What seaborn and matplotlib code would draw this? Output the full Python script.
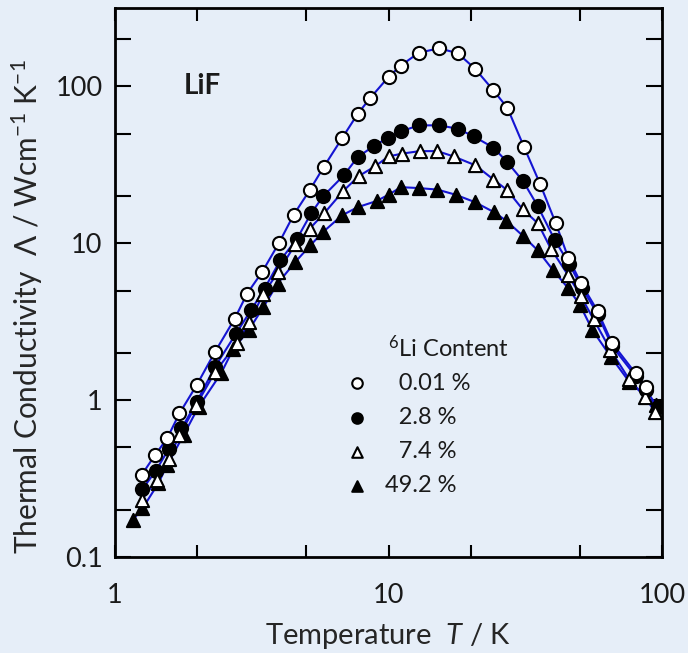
import numpy as np
import pandas as pd
import matplotlib
matplotlib.use("Agg")
import matplotlib.pyplot as plt
import seaborn as sns
from matplotlib.ticker import FixedLocator, FixedFormatter, NullFormatter

# ---- data (T in K, Lambda in W cm^-1 K^-1) ----
T_001 = [1.25, 1.40, 1.55, 1.72, 1.99, 2.32, 2.74, 3.04, 3.45, 3.97, 4.50, 5.15,
         5.79, 6.77, 7.72, 8.59, 10.0, 11.1, 12.9, 15.3, 17.9, 20.7, 24.2, 27.2,
         31.3, 35.8, 40.9, 45.4, 50.5, 58.1, 65.6, 80.1, 87.4]
K_001 = [0.333, 0.446, 0.570, 0.823, 1.25, 2.03, 3.31, 4.78, 6.56, 10.0, 15.2, 21.8,
         30.6, 46.9, 67.0, 84.7, 115, 136, 164, 175, 163, 130, 94.3, 73.1,
         41.1, 24.0, 13.4, 8.11, 5.59, 3.71, 2.32, 1.48, 1.21]

T_28 = [1.26, 1.41, 1.57, 1.75, 1.99, 2.32, 2.77, 3.14, 3.52, 4.02, 4.63, 5.21,
        5.76, 6.86, 7.72, 8.84, 9.94, 11.1, 12.9, 15.3, 17.9, 20.5, 24.2, 27.2,
        31.1, 35.1, 40.6, 45.7, 50.9, 58.1, 65.6, 80.1, 87.4, 96.5]
K_28 = [0.271, 0.355, 0.487, 0.660, 0.975, 1.63, 2.66, 3.74, 5.14, 7.79, 10.7, 15.5,
        19.9, 27.1, 35.5, 41.7, 47.1, 51.7, 56.5, 56.5, 53.8, 48.0, 40.7, 32.9,
        24.8, 17.3, 10.45, 7.43, 5.22, 3.55, 2.22, 1.42, 1.16, 0.90]

T_74 = [1.25, 1.42, 1.57, 1.72, 1.98, 2.32, 2.79, 3.10, 3.49, 3.95, 4.56, 5.15,
        5.83, 6.82, 7.78, 8.96, 10.0, 11.2, 13.0, 15.1, 17.3, 20.8, 24.2, 27.2,
        30.9, 35.2, 39.2, 45.4, 50.5, 56.2, 64.7, 75.9, 86.6, 94.3]
K_74 = [0.231, 0.309, 0.42, 0.598, 0.929, 1.51, 2.30, 3.15, 4.78, 6.56, 9.86, 12.4,
        15.6, 21.5, 26.8, 31.1, 35.8, 37.3, 38.7, 38.7, 35.8, 31.4, 25.5, 21.8,
        16.5, 13.4, 9.25, 6.25, 4.6, 3.28, 2.10, 1.355, 1.05, 0.842]

T_492 = [1.16, 1.26, 1.44, 1.55, 1.78, 2.02, 2.44, 2.71, 3.08, 3.49, 3.93, 4.56,
         5.18, 5.76, 6.77, 7.72, 9.04, 10.0, 11.1, 12.9, 15.1, 17.6, 20.7, 24.3,
         27.0, 31.1, 35.1, 39.8, 45.2, 50.2, 55.7, 65.0, 75.9, 95.1]
K_492 = [0.172, 0.204, 0.295, 0.385, 0.598, 0.906, 1.48, 2.13, 2.79, 3.93, 5.54, 7.60,
         9.71, 11.8, 15.1, 17.0, 18.6, 20.4, 22.8, 22.5, 22.0, 20.4, 18.3, 15.8,
         13.9, 11.1, 9.03, 6.80, 5.22, 4.03, 2.79, 1.89, 1.31, 0.93]

series_labels = ["\u20070.01 %", "\u20072.8 %", "\u20077.4 %", "49.2 %"]

x_ticks = [1, 10, 100]
x_tick_labels = ["1", "10", "100"]
y_ticks = [0.1, 1, 10, 100]
y_tick_labels = ["0.1", "1", "10", "100"]
minor_subs = [2, 5]

# ---- style ----
BG = "#e6eef8"
LINE_BLUE = "#1414d2"

sns.set_theme(style="ticks")
plt.rcParams["font.family"] = ["Lato", "DejaVu Sans"]
plt.rcParams["mathtext.fontset"] = "custom"
plt.rcParams["mathtext.rm"] = "Lato"
plt.rcParams["mathtext.it"] = "Lato:italic"
plt.rcParams["mathtext.bf"] = "Lato:bold"
plt.rcParams["text.color"] = "#1a1a1a"

fig = plt.figure(figsize=(6.88, 6.53), dpi=100, facecolor=BG)
ax = fig.add_axes([0.1672, 0.147, 0.795, 0.8407])
ax.set_facecolor(BG)

series = [
    (T_492, K_492, "black", "^", series_labels[3]),
    (T_28, K_28, "black", "o", series_labels[1]),
    (T_74, K_74, "white", "^", series_labels[2]),
    (T_001, K_001, "white", "o", series_labels[0]),
]

for T, K, face, mk, lab in series:
    df = pd.DataFrame({"T": T, "K": K})
    sns.lineplot(data=df, x="T", y="K", color=LINE_BLUE, lw=1.5, ax=ax,
                 sort=True, estimator=None, zorder=2, legend=False)

for i, (T, K, face, mk, lab) in enumerate(series):
    df = pd.DataFrame({"T": T, "K": K})
    sns.scatterplot(data=df, x="T", y="K", marker=mk, s=90, color=face,
                    edgecolor="black", linewidth=1.5, ax=ax, zorder=3 + i,
                    label=lab)

ax.set_xscale("log")
ax.set_yscale("log")
ax.set_xlim(1, 100)
ax.set_ylim(0.1, 10 ** 2.5)

ax.xaxis.set_major_locator(FixedLocator(x_ticks))
ax.xaxis.set_major_formatter(FixedFormatter(x_tick_labels))
ax.yaxis.set_major_locator(FixedLocator(y_ticks))
ax.yaxis.set_major_formatter(FixedFormatter(y_tick_labels))
ax.xaxis.set_minor_locator(FixedLocator([m * d for d in (1, 10) for m in minor_subs]))
ax.yaxis.set_minor_locator(FixedLocator([m * d for d in (0.1, 1, 10, 100) for m in minor_subs]))
ax.xaxis.set_minor_formatter(NullFormatter())
ax.yaxis.set_minor_formatter(NullFormatter())

ax.tick_params(axis="both", which="both", direction="in", top=True, right=True,
               width=1.5, colors="black", labelcolor="#1a1a1a", labelsize=19.5)
ax.tick_params(axis="x", which="both", length=9, pad=19)
ax.tick_params(axis="y", which="both", length=11.5, pad=9)
for sp in ax.spines.values():
    sp.set_linewidth(2.0)
    sp.set_color("black")

ax.set_xlabel(r"Temperature  $\mathit{T}$ / K", fontsize=21, labelpad=9)
ax.set_ylabel(r"Thermal Conductivity  $\mathit{\Lambda}$ / Wcm$^{-1}$ K$^{-1}$",
              fontsize=21.5)
ax.yaxis.set_label_coords(-0.128, 0.457)

ax.text(1.78, 100, "LiF", fontsize=20, fontweight="bold", va="center", ha="left")

# legend
handles, labels = ax.get_legend_handles_labels()
order = [labels.index(l) for l in series_labels]
leg = ax.legend([handles[o] for o in order], [labels[o] for o in order],
                loc="upper left", bbox_to_anchor=(0.421, 0.336), frameon=False,
                fontsize=17, handlelength=1.0, handletextpad=0.68,
                labelspacing=0.56, borderpad=0, borderaxespad=0,
                markerscale=0.8)
ax.text(0.499, 0.381, r"$^{6}$Li Content", transform=ax.transAxes,
        fontsize=17, va="center", ha="left")

fig.savefig("out.png", dpi=100, facecolor=BG)
